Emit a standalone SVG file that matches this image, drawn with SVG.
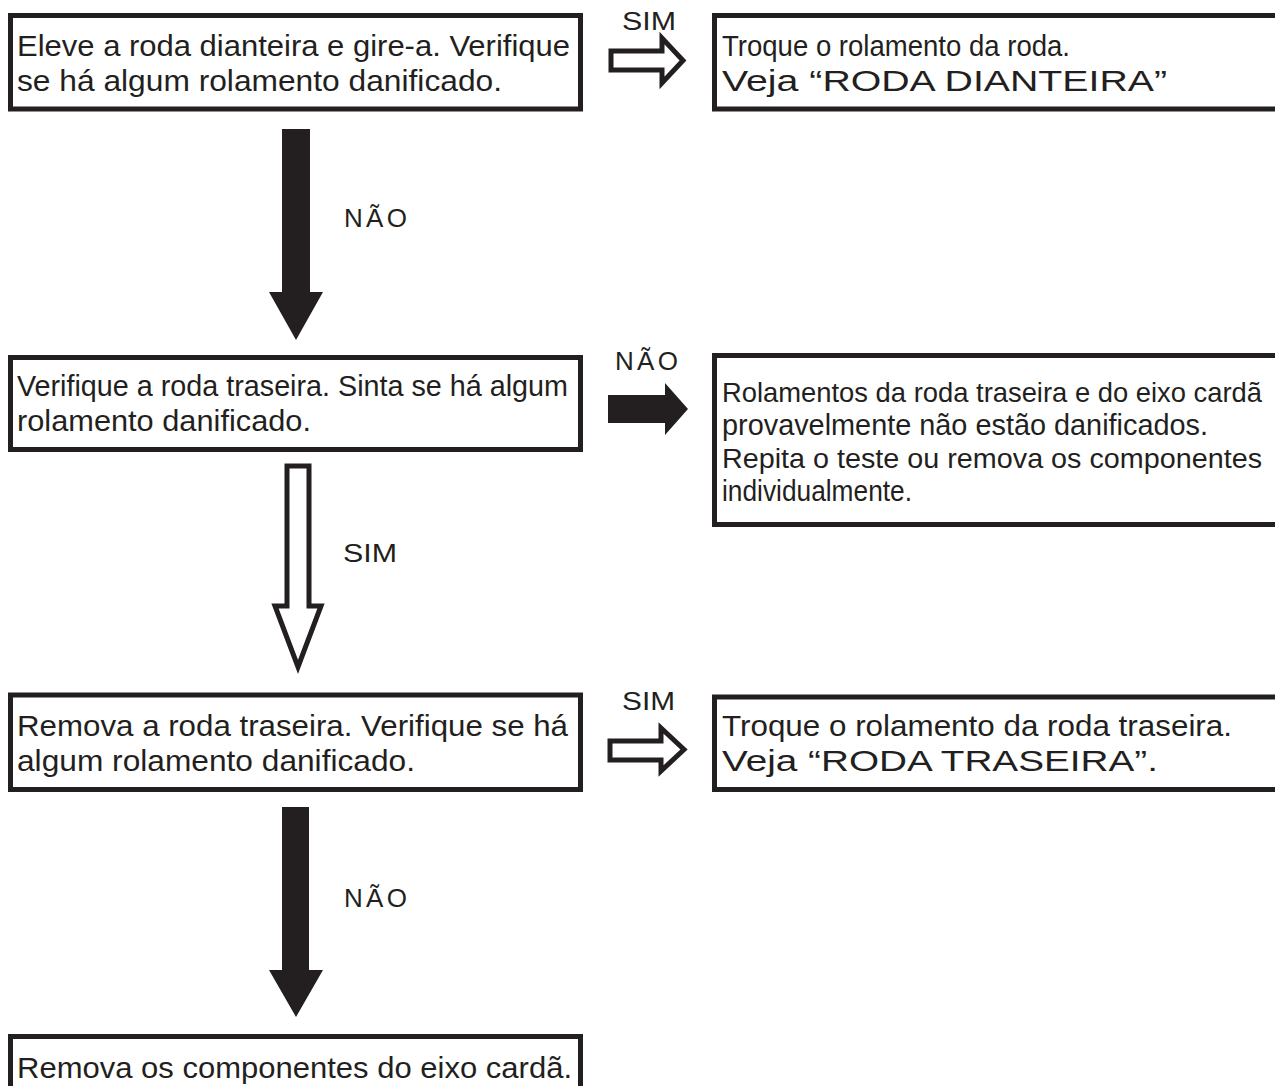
<svg xmlns="http://www.w3.org/2000/svg" width="1275" height="1086" viewBox="0 0 1275 1086">
<style>
.box{fill:#ffffff;stroke:#231f20;stroke-width:5}
.t{font-family:"Liberation Sans",Arial,sans-serif;font-size:30px;fill:#231f20}
.t2{font-size:27.5px}
.lbl{font-family:"Liberation Sans",Arial,sans-serif;font-size:26px;fill:#231f20}
.solid{fill:#231f20;stroke:none}
.open{fill:#ffffff;stroke:#231f20;stroke-width:5;stroke-linejoin:miter}
</style>
<rect width="1275" height="1086" fill="#ffffff"/>
<g id="connectors">
<path class="open" d="M611,51 H662 V38 L683,60.5 L662,83 V70 H611 Z"/>
<polygon class="solid" points="282,129 310,129 310,292 323,292 296,340 269,292 282,292"/>
<path class="solid" d="M608,395 H665 V383 L688,409 L665,435 V423 H608 Z"/>
<path class="open" stroke-width="6" d="M287,466 H309 V606 H321 L298,667 L275,606 H287 Z"/>
<path class="open" d="M610,741 H661 V728 L684,749.5 L661,771 V760 H610 Z"/>
<polygon class="solid" points="282,807 309,807 309,970 323,970 296,1017 269,970 282,970"/>
<text class="lbl" x="622" y="30" textLength="54" lengthAdjust="spacingAndGlyphs">SIM</text>
<text class="lbl" x="344" y="227" textLength="63" lengthAdjust="spacing">NÃO</text>
<text class="lbl" x="615" y="370" textLength="63" lengthAdjust="spacing">NÃO</text>
<text class="lbl" x="343" y="562" textLength="54" lengthAdjust="spacingAndGlyphs">SIM</text>
<text class="lbl" x="622" y="710" textLength="53" lengthAdjust="spacingAndGlyphs">SIM</text>
<text class="lbl" x="344" y="907" textLength="63" lengthAdjust="spacing">NÃO</text>
</g>
<g id="n1">
<rect class="box" x="10.5" y="15.5" width="570" height="93.5"/>
<text class="t" x="17" y="56" textLength="553" lengthAdjust="spacingAndGlyphs">Eleve a roda dianteira e gire-a. Verifique</text>
<text class="t" x="17" y="91" textLength="485" lengthAdjust="spacingAndGlyphs">se há algum rolamento danificado.</text>
</g>
<g id="n2">
<rect class="box" x="714.5" y="15.5" width="600" height="93.5"/>
<text class="t" x="722" y="56" textLength="348" lengthAdjust="spacingAndGlyphs">Troque o rolamento da roda.</text>
<text class="t" x="722" y="91" textLength="445" lengthAdjust="spacingAndGlyphs">Veja “RODA DIANTEIRA”</text>
</g>
<g id="n3">
<rect class="box" x="10.5" y="357.5" width="570" height="92"/>
<text class="t" x="17" y="396" textLength="551" lengthAdjust="spacingAndGlyphs">Verifique a roda traseira. Sinta se há algum</text>
<text class="t" x="17" y="431" textLength="294" lengthAdjust="spacingAndGlyphs">rolamento danificado.</text>
</g>
<g id="n4">
<rect class="box" x="714.5" y="355.5" width="600" height="169"/>
<text class="t t2" x="722" y="402" textLength="540" lengthAdjust="spacingAndGlyphs">Rolamentos da roda traseira e do eixo cardã</text>
<text class="t" x="722" y="435" textLength="486" lengthAdjust="spacingAndGlyphs">provavelmente não estão danificados.</text>
<text class="t t2" x="722" y="468" textLength="540" lengthAdjust="spacingAndGlyphs">Repita o teste ou remova os componentes</text>
<text class="t" x="722" y="501" textLength="190" lengthAdjust="spacingAndGlyphs">individualmente.</text>
</g>
<g id="n5">
<rect class="box" x="10.5" y="695" width="570" height="94.5"/>
<text class="t" x="17" y="736" textLength="551" lengthAdjust="spacingAndGlyphs">Remova a roda traseira. Verifique se há</text>
<text class="t" x="17" y="771" textLength="398" lengthAdjust="spacingAndGlyphs">algum rolamento danificado.</text>
</g>
<g id="n6">
<rect class="box" x="714.5" y="697" width="600" height="92.5"/>
<text class="t" x="722" y="736" textLength="510" lengthAdjust="spacingAndGlyphs">Troque o rolamento da roda traseira.</text>
<text class="t" x="722" y="771" textLength="436" lengthAdjust="spacingAndGlyphs">Veja “RODA TRASEIRA”.</text>
</g>
<g id="n7">
<rect class="box" x="10.5" y="1036.5" width="570" height="100"/>
<text class="t" x="17" y="1078" textLength="555" lengthAdjust="spacingAndGlyphs">Remova os componentes do eixo cardã.</text>
</g>
</svg>
